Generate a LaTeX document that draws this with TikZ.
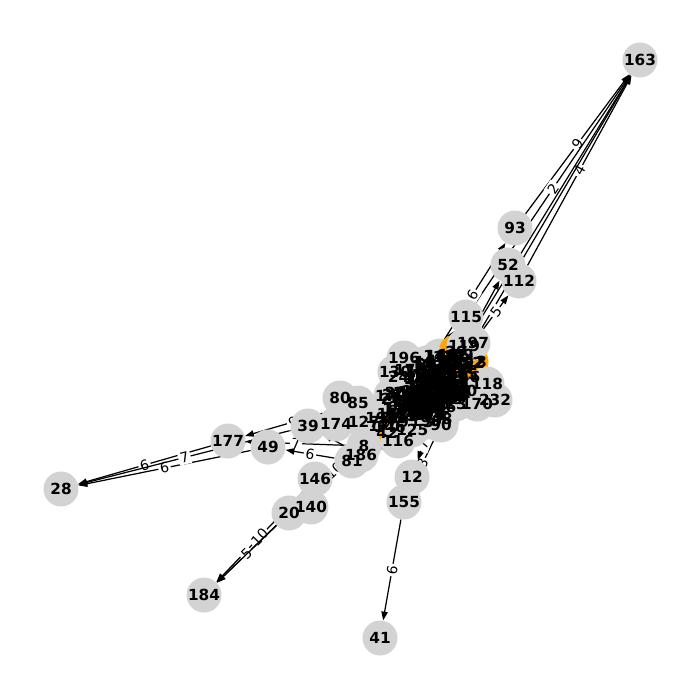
\documentclass[tikz,border=0pt]{standalone}
\usepackage{fontspec}
\setmainfont{DejaVu Sans}
\usetikzlibrary{arrows.meta, positioning}
\definecolor{nodegray}{RGB}{211,211,211}
\definecolor{nodeorange}{RGB}{255,165,0}
\pgfdeclarelayer{background}
\pgfsetlayers{background,main}

\begin{document}
\begin{tikzpicture}[x=0.02cm, y=-0.02cm,
			> = {Stealth[length=5pt, width=3.6pt, inset=0pt]},
			vtx/.style = {circle, fill=nodegray, minimum size=0.7cm, inner sep=0pt},
			hot/.style = {vtx, fill=nodeorange},
			vlab/.style = {inner sep=0pt, font=\fontsize{8.7}{9}\selectfont\bfseries},
			edge/.style = {->, line width=0.7pt},
			elab/.style = {sloped, midway, fill=white, inner sep=1pt, font=\fontsize{8}{9}\selectfont}]
			\useasboundingbox (0,0) rectangle (700,700);
			
			% dense core of the graph
			\pgfmathsetseed{4711}
			\foreach \i in {1,...,140} {
				\pgfmathsetmacro\u{rnd+rnd-1}
				\pgfmathsetmacro\v{(rnd+rnd-1)*(1-0.5*abs(\u))}
				\pgfmathsetmacro\px{427+56*\u*0.77+34*\v*0.63}
				\pgfmathsetmacro\py{394-56*\u*0.63+34*\v*0.77}
				\node[vtx] (c\i) at (\px,\py) {};
			}
			\node[hot] (o1) at (456,352) {};
			\node[hot] (o2) at (471,362) {};
			\node[hot] (o3) at (387,433) {};
			\node[vtx] (k1) at (430,362) {};
			\node[vtx] (k2) at (464,346) {};
			\node[vtx] (k3) at (434,413) {};
			
			% named vertices
			\foreach \name/\px/\py in {163/640/60, 93/515/228, 52/508/265, 112/519/281,
				115/466/317, 197/473/343, 196/404/358, 130/395/372, 118/487/384,
				232/495/400, 170/477/404, 90/441/425, 116/398/441, 80/340/398,
				85/358/403, 174/336/424, 127/364/422, 39/308/426, 8/364/446,
				186/361/455, 81/352/461, 177/228/441, 49/268/447, 28/61/489,
				146/315/479, 140/311/507, 20/289/513, 184/204/595, 12/412/477,
				155/404/502, 41/380/638}
			\node[vtx] (n\name) at (\px,\py) {};
			
			\begin{pgfonlayer}{background}
				\foreach \k in {1,...,90} {
					\pgfmathtruncatemacro\a{random(1,140)}
					\pgfmathtruncatemacro\b{random(1,140)}
					\ifnum\a=\b\else \draw[edge] (c\a) -- (c\b); \fi
				}
				%
				\draw[edge] (n93) -- node[elab] {9} (n163);
				\draw[edge] (n115) -- node[elab] {2} (n163);
				\draw[edge] (n112) -- node[elab] {4} (n163);
				\draw[edge] (n197) -- (n163);
				\draw[edge] (k2) -- (n163);
				\draw[edge] (k1) -- node[elab] {6} (n93);
				\draw[edge] (k2) -- (n52);
				\draw[edge] (n197) -- node[elab] {5} (n112);
				\draw[edge] (k1) -- (n115);
				%
				\draw[edge] (n177) -- node[elab] {6} (n28);
				\draw[edge] (n49) -- node[elab] {6} (n28);
				\draw[edge] (n39) -- node[elab] {7} (n28);
				\draw[edge] (n85) -- node[elab] {9} (n177);
				\draw[edge] (n8) -- node[elab] {7} (n177);
				\draw[edge] (n81) -- node[elab] {6} (n49);
				\draw[edge] (n186) -- (n39);
				%
				\draw[edge] (n146) -- node[elab] {10} (n184);
				\draw[edge] (n20) -- node[elab] {5} (n184);
				\draw[edge] (k2) -- node[elab] {10} (n184);
				\draw[edge] (n90) -- node[elab] {3} (n155);
				\draw[edge] (k3) -- node[elab] {7} (n12);
				\draw[edge] (n155) -- node[elab] {6} (n41);
			\end{pgfonlayer}
			
			% labels on top of all vertices
			\foreach \i in {1,...,140} {
				\pgfmathtruncatemacro\lab{random(1,250)}
				\node[vlab] at (c\i) {\lab};
			}
			\node[vlab] at (o1) {29};
			\node[vlab] at (o2) {213};
			\node[vlab] at (o3) {42};
			\node[vlab] at (k1) {161};
			\node[vlab] at (k2) {119};
			\node[vlab] at (k3) {64};
			\foreach \name in {163, 93, 52, 112, 115, 197, 196, 130, 118, 232, 170, 90,
				116, 80, 85, 174, 127, 39, 8, 186, 81, 177, 49, 28, 146, 140, 20, 184,
				12, 155, 41}
			\node[vlab] at (n\name) {\name};
		\end{tikzpicture}
\end{document}
